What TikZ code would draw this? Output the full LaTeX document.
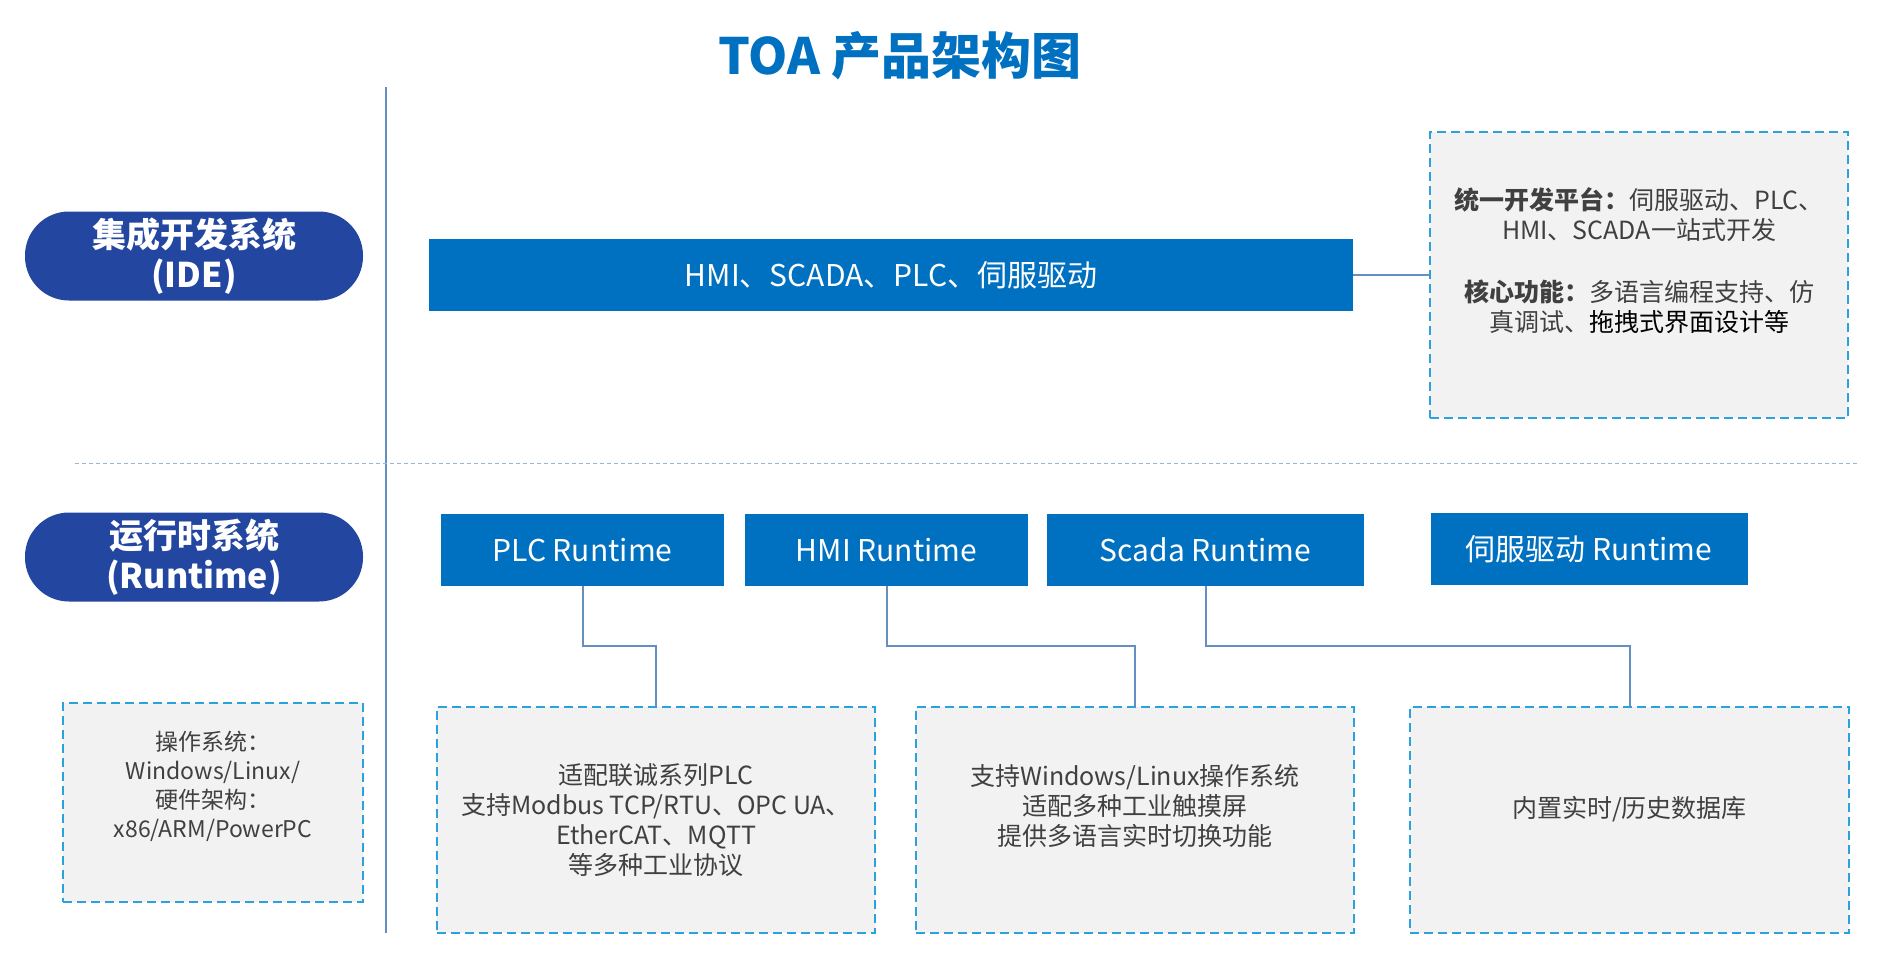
\documentclass[tikz,border=0pt]{standalone}
\usepackage{fontspec}
\setmainfont{Noto Sans CJK SC}
\usetikzlibrary{positioning,calc}
\definecolor{titleblue}{HTML}{0070C0}
\definecolor{pillblue}{HTML}{2347A0}
\definecolor{boxblue}{HTML}{0070C0}
\definecolor{dashcyan}{HTML}{2AA3DC}
\definecolor{notefill}{HTML}{F2F2F2}
\definecolor{notetext}{HTML}{404040}
\definecolor{linkblue}{HTML}{6390C0}
\definecolor{sepblue}{HTML}{9AB5D6}
\newcommand{\fsz}[2]{\fontsize{#1}{#2}\selectfont}

\begin{document}
\begin{tikzpicture}[x=1pt,y=-1pt,
  pill/.style={fill=pillblue,text=white,rounded corners=44pt,minimum height=89pt,
    minimum width=338pt,inner sep=0pt,align=center,font=\fsz{34}{40}\bfseries},
  bluebox/.style={fill=boxblue,text=white,minimum height=72pt,inner sep=0pt,font=\fsz{30}{34}},
  note/.style={draw=dashcyan,fill=notefill,line width=2pt,dash pattern=on 9pt off 5pt,
    text=notetext,align=center,inner sep=0pt,font=\fsz{25}{30}},
  link/.style={draw=linkblue,line width=2pt}]
\useasboundingbox (0,0) rectangle (1896,967);
\fill[white] (0,0) rectangle (1896,967);
% dividers
\draw[linkblue,line width=2pt] (386,87) -- (386,933);
\draw[sepblue,line width=1pt,dash pattern=on 4pt off 3pt] (75,463) -- (1860,463);
% title
\node[text=titleblue,font=\fsz{50}{56}\bfseries] (title) at (900,56) {TOA 产品架构图};
% layer labels
\node[pill] (idepill) at (194,256) {集成开发系统\\(IDE)};
\node[pill] (rtpill) at (194,557) {运行时系统\\(Runtime)};
% IDE layer
\node[bluebox,minimum width=924pt] (idebox) at (891,275) {HMI、SCADA、PLC、伺服驱动};
\node[note,minimum width=418pt,minimum height=286pt] (idenote) at (1639,275)
  {{\bfseries 统一开发平台：}伺服驱动、PLC、\\HMI、SCADA一站式开发\\[32pt]
   {\bfseries 核心功能：}多语言编程支持、仿\\真调试、{\color{black}拖拽式界面设计等}\\[0pt]\mbox{}};
% runtime layer
\node[bluebox,minimum width=283pt] (plcrt) at (582.5,550) {PLC Runtime};
\node[bluebox,minimum width=283pt] (hmirt) at (886.5,550) {HMI Runtime};
\node[bluebox,minimum width=317pt] (scadart) at (1205.5,550) {Scada Runtime};
\node[bluebox,minimum width=317pt] (servort) at (1589,549) {伺服驱动 Runtime};
% notes
\node[note,font=\fsz{23}{29},minimum width=300pt,minimum height=199pt] (osnote) at (213,802)
  {操作系统：\\Windows/Linux/\\硬件架构：\\x86/ARM/PowerPC\\[6pt]\mbox{}};
\node[note,minimum width=438pt,minimum height=226pt] (plcnote) at (656,820)
  {适配联诚系列PLC\\支持Modbus TCP/RTU、OPC UA、\\EtherCAT、MQTT\\等多种工业协议};
\node[note,minimum width=438pt,minimum height=226pt] (hminote) at (1135,820)
  {支持Windows/Linux操作系统\\适配多种工业触摸屏\\提供多语言实时切换功能\\[0pt]\mbox{}};
\node[note,minimum width=439pt,minimum height=226pt] (datanote) at (1629.5,820)
  {内置实时/历史数据库\\[-4pt]\mbox{}};
% connectors
\draw[link] (idebox.east) -- (idenote.west);
\draw[link] (plcrt.south) |- ($(plcrt.south)!.5!(plcnote.north)$) -| (plcnote.north);
\draw[link] (hmirt.south) |- ($(hmirt.south)!.5!(hminote.north)$) -| (hminote.north);
\draw[link] (scadart.south) |- ($(scadart.south)!.5!(datanote.north)$) -| (datanote.north);
\end{tikzpicture}
\end{document}
